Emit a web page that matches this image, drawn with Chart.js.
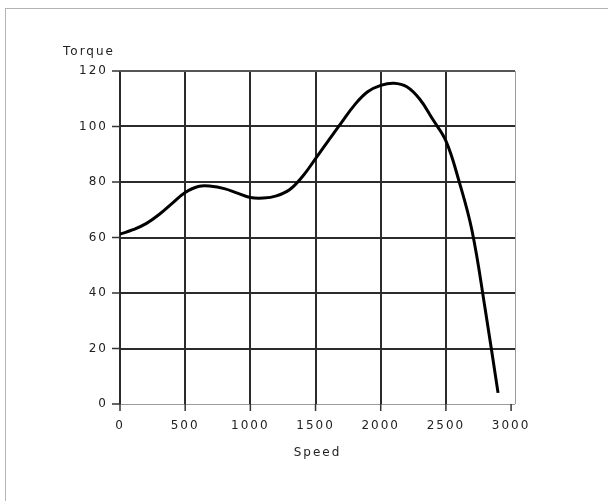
<!DOCTYPE html>
<html>
<head>
<meta charset="utf-8">
<script src="https://cdn.jsdelivr.net/npm/chart.js@4/dist/chart.umd.min.js"></script>
<style>
  html, body { margin: 0; padding: 0; background: #fff; }
  #wrap { position: relative; width: 608px; height: 501px; overflow: hidden; }
  #frame { position: absolute; left: 5px; top: 8px; width: 700px; height: 600px; border: 1px solid #b4b4b4; box-sizing: border-box; }
  canvas { position: absolute; left: 0; top: 0; }
</style>
</head>
<body>
<div id="wrap">
  <div id="frame"></div>
  <canvas id="c" width="608" height="501"></canvas>
</div>
<script>
// Data
const speed  = [0, 100, 200, 300, 400, 500, 600, 700, 800, 900, 1000, 1100, 1200, 1300, 1400, 1500, 1600, 1700, 1800, 1900, 2000, 2100, 2200, 2300, 2400, 2500, 2600, 2700, 2800, 2900];
const torque = [61.2, 62.8, 65, 68.3, 72.3, 76.2, 78.4, 78.5, 77.6, 76, 74.4, 74.2, 75, 77.2, 82, 88.4, 95, 101.5, 107.8, 112.5, 114.8, 115.6, 114.3, 109.8, 102.5, 94.8, 80.4, 62.5, 34.6, 4];
const xTicks = [0, 500, 1000, 1500, 2000, 2500, 3000];
const yTicks = [0, 20, 40, 60, 80, 100, 120];
const yTitle = 'Torque';
const xTitle = 'Speed';

const FONT = 'DejaVu Sans';

const letterSpacingPlugin = {
  id: 'ls',
  beforeDraw(chart) { chart.ctx.letterSpacing = '2px'; }
};
const extrasPlugin = {
  id: 'frameExtras',
  afterDraw(chart) {
    const { ctx, chartArea } = chart;
    const xs = chart.scales.x, ys = chart.scales.y;
    ctx.save();
    // right border of plot
    ctx.strokeStyle = '#9a9a9a';
    ctx.lineWidth = 1;
    ctx.beginPath();
    ctx.moveTo(Math.round(chartArea.right) + 0.5, chartArea.top);
    ctx.lineTo(Math.round(chartArea.right) + 0.5, chartArea.bottom);
    ctx.stroke();
    // tick marks
    ctx.strokeStyle = '#333';
    ctx.lineWidth = 1.5;
    ctx.beginPath();
    xTicks.forEach(v => {
      const px = xs.getPixelForValue(v);
      ctx.moveTo(px, chartArea.bottom);
      ctx.lineTo(px, chartArea.bottom + 7);
    });
    yTicks.forEach(v => {
      const py = ys.getPixelForValue(v);
      ctx.moveTo(chartArea.left - 8, py);
      ctx.lineTo(chartArea.left, py);
    });
    ctx.stroke();
    // y axis title
    ctx.letterSpacing = '2px';
    ctx.fillStyle = '#222';
    ctx.font = '12px "' + FONT + '"';
    ctx.textAlign = 'left';
    ctx.textBaseline = 'middle';
    ctx.fillText(yTitle, chartArea.left - 57, chartArea.top - 19);
    ctx.restore();
  }
};

new Chart(document.getElementById('c'), {
  type: 'line',
  data: {
    datasets: [{
      data: speed.map((s, i) => ({ x: s, y: torque[i] })),
      borderColor: '#000',
      borderWidth: 3,
      pointRadius: 0,
      tension: 0.4,
      fill: false
    }]
  },
  options: {
    responsive: false,
    animation: false,
    events: [],
    layout: { padding: { left: 0, top: 71, right: 93, bottom: 37 } },
    plugins: { legend: { display: false }, tooltip: { enabled: false }, title: { display: false } },
    scales: {
      x: {
        type: 'linear',
        min: 0,
        max: 3030,
        afterFit(s) { s.height = 60; },
        afterBuildTicks(s) { s.ticks = xTicks.map(v => ({ value: v })); },
        border: { display: false },
        grid: {
          color: ctx => (ctx.tick && ctx.tick.value === 3000) ? 'rgba(0,0,0,0)' : '#2b2b2b',
          lineWidth: 2,
          tickLength: 7,
          tickColor: 'rgba(0,0,0,0)'
        },
        ticks: {
          autoSkip: false,
          maxRotation: 0,
          padding: 8,
          color: '#222',
          font: { family: FONT, size: 12 },
          callback: v => String(v)
        },
        title: {
          display: true,
          text: xTitle,
          color: '#222',
          font: { family: FONT, size: 12 },
          padding: { top: 2, bottom: 4 }
        }
      },
      y: {
        min: 0,
        max: 120,
        afterFit(s) { s.width = 120; },
        afterBuildTicks(s) { s.ticks = yTicks.map(v => ({ value: v })); },
        border: { display: false },
        grid: {
          color: ctx => {
            const v = ctx.tick ? ctx.tick.value : null;
            if (v === 0) return '#9a9a9a';
            if (v === 120) return '#555';
            return '#2b2b2b';
          },
          lineWidth: ctx => (ctx.tick && ctx.tick.value === 0) ? 1 : 2,
          tickLength: 8,
          tickColor: 'rgba(0,0,0,0)'
        },
        ticks: {
          padding: 4,
          color: '#222',
          font: { family: FONT, size: 12 },
          callback: v => String(v)
        }
      }
    }
  },
  plugins: [letterSpacingPlugin, extrasPlugin]
});
</script>
</body>
</html>
